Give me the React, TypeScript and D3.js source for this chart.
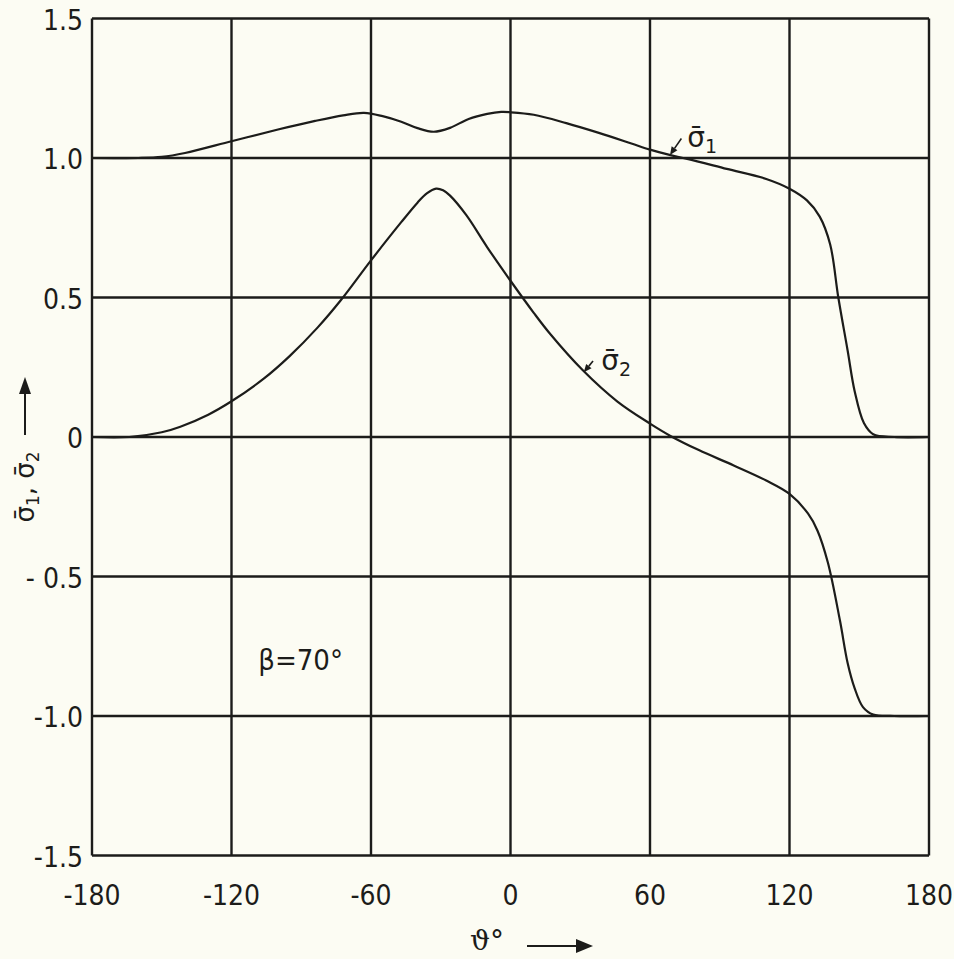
import React from "react";
import * as d3 from "d3";

// angle theta (deg) and stress values
const theta1 = [-180, -160, -150, -140, -120, -100, -84, -72, -63, -55, -47, -40, -33, -26, -18, -10, -4, 0, 10, 24, 38, 52, 60, 68, 76, 93, 110, 120, 127.5, 133, 137.5, 141, 145, 148, 152, 156, 165, 180];
const sigma1 = [1.0, 1.0, 1.004, 1.018, 1.06, 1.102, 1.133, 1.153, 1.162, 1.15, 1.13, 1.107, 1.094, 1.108, 1.14, 1.158, 1.165, 1.164, 1.155, 1.125, 1.09, 1.052, 1.03, 1.012, 0.997, 0.961, 0.925, 0.89, 0.848, 0.79, 0.69, 0.5, 0.31, 0.165, 0.05, 0.01, 0, 0];

const theta2 = [-180, -164, -150, -142, -130, -120, -106, -95, -83, -73, -60, -47, -40, -36, -32, -29, -26, -19, -10, 0, 10, 17, 31, 46, 60, 69, 81, 96, 110, 120, 128, 132, 136.5, 141.7, 145, 148, 151.6, 156, 165, 180];
const sigma2 = [0, 0, 0.017, 0.037, 0.08, 0.128, 0.21, 0.29, 0.392, 0.49, 0.633, 0.77, 0.84, 0.873, 0.89, 0.884, 0.865, 0.795, 0.68, 0.56, 0.445, 0.37, 0.24, 0.127, 0.048, 0.003, -0.047, -0.102, -0.156, -0.204, -0.275, -0.335, -0.45, -0.658, -0.81, -0.9, -0.968, -0.995, -1, -1];

const xTicks = [-180, -120, -60, 0, 60, 120, 180];
const yTicks = [1.5, 1.0, 0.5, 0, -0.5, -1.0, -1.5];
const yTickLabels = ["1.5", "1.0", "0.5", "0", "- 0.5", "-1.0", "-1.5"];

const W = 954;
const H = 959;
const ink = "#1c1c1a";
const font = "'Liberation Sans Narrow', 'DejaVu Sans Condensed', 'Roboto', sans-serif";

export default function App() {
  const x = d3.scaleLinear().domain([-180, 180]).range([92, 929]);
  const y = d3.scaleLinear().domain([-1.5, 1.5]).range([855.5, 18.5]);

  const line = d3
    .line<[number, number]>()
    .x((d) => x(d[0]))
    .y((d) => y(d[1]))
    .curve(d3.curveCatmullRom.alpha(0.5));

  const d1 = line(theta1.map((t, i) => [t, sigma1[i]]) as [number, number][]) || "";
  const d2 = line(theta2.map((t, i) => [t, sigma2[i]]) as [number, number][]) || "";

  // small annotation arrow pointing at the curve
  const pointer = (tx: number, ty: number, fx: number, fy: number) => {
    const ang = Math.atan2(ty - fy, tx - fx);
    const L = 8;
    const w = 3.5;
    const bx = tx - L * Math.cos(ang);
    const by = ty - L * Math.sin(ang);
    const px = -Math.sin(ang) * w;
    const py = Math.cos(ang) * w;
    return (
      <g>
        <line x1={fx} y1={fy} x2={bx} y2={by} stroke={ink} strokeWidth={1.6} />
        <path d={`M${tx},${ty}L${bx + px},${by + py}L${bx - px},${by - py}Z`} fill={ink} />
      </g>
    );
  };

  return (
    <svg
      width={W}
      height={H}
      style={{ position: "absolute", left: 0, top: 0, background: "#fcfcf3" }}
    >
      <rect x={0} y={0} width={W} height={H} fill="#fcfcf3" />

      {/* grid */}
      <g stroke={ink} strokeWidth={2.4}>
        {xTicks.map((t) => (
          <line key={"vx" + t} x1={x(t)} x2={x(t)} y1={y(1.5)} y2={y(-1.5)} />
        ))}
        {yTicks.map((t) => (
          <line key={"hy" + t} x1={x(-180)} x2={x(180)} y1={y(t)} y2={y(t)} />
        ))}
      </g>

      {/* curves */}
      <path d={d1} fill="none" stroke={ink} strokeWidth={2.2} strokeLinejoin="round" />
      <path d={d2} fill="none" stroke={ink} strokeWidth={2.2} strokeLinejoin="round" />

      {/* tick labels */}
      <g fontFamily={font} fontSize={28} fill={ink}>
        {yTicks.map((t, i) => (
          <text key={"yl" + t} x={83} y={y(t) + 3} textAnchor="end" dominantBaseline="middle">
            {yTickLabels[i]}
          </text>
        ))}
        {xTicks.map((t) => (
          <text key={"xl" + t} x={x(t)} y={905} textAnchor="middle">
            {t}
          </text>
        ))}
      </g>

      {/* curve labels */}
      <text x={x(76)} y={y(1.04)} fontFamily="'DejaVu Sans', sans-serif" fontSize={28} fill={ink}>
        σ̄<tspan fontSize={19} dy={6}>1</tspan>
      </text>
      {pointer(x(68.6), y(1.011), x(73.5), y(1.07))}

      <text x={x(39)} y={y(0.24)} fontFamily="'DejaVu Sans', sans-serif" fontSize={28} fill={ink}>
        σ̄<tspan fontSize={19} dy={6}>2</tspan>
      </text>
      {pointer(x(31.5), y(0.232), x(35.5), y(0.272))}

      <text x={x(-108.5)} y={y(-0.835)} fontFamily={font} fontSize={29} fill={ink}>
        β=70°
      </text>

      {/* axis titles */}
      <g transform="translate(34,487) rotate(-90)">
        <text x={0} y={0} textAnchor="middle" fontFamily="'DejaVu Sans', sans-serif" fontSize={26} fill={ink}>
          σ̄<tspan fontSize={17} dy={5}>1</tspan>
          <tspan dy={-5}>, σ̄</tspan>
          <tspan fontSize={17} dy={5}>2</tspan>
        </text>
      </g>
      <line x1={25} x2={25} y1={435} y2={392} stroke={ink} strokeWidth={2} />
      <path d="M25,377L19,394L31,394Z" fill={ink} />

      <text x={470} y={950} fontFamily="'DejaVu Serif', serif" fontSize={28} fill={ink}>
        ϑ°
      </text>
      <line x1={527} x2={578} y1={946} y2={946} stroke={ink} strokeWidth={2} />
      <path d="M593,946L576,939L576,953Z" fill={ink} />
    </svg>
  );
}
